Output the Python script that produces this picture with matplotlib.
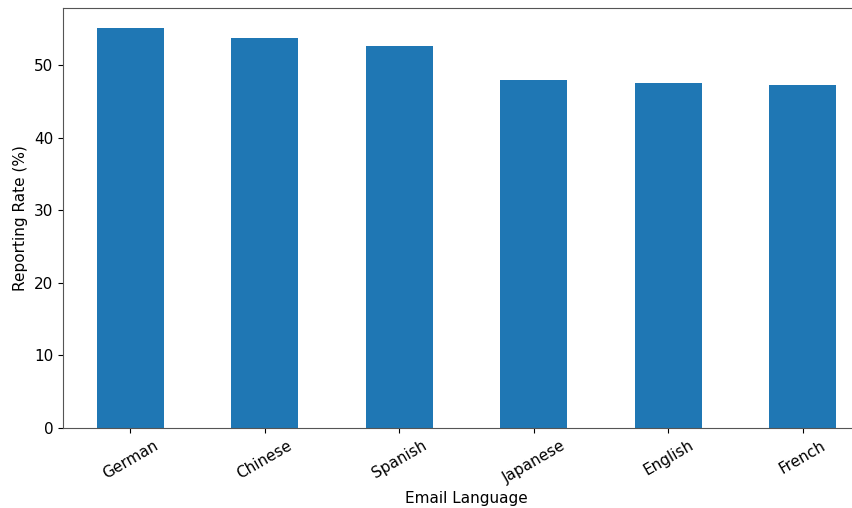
import pandas as pd
import matplotlib
matplotlib.use('Agg')
import matplotlib.pyplot as plt

languages = ['German', 'Chinese', 'Spanish', 'Japanese', 'English', 'French']
reporting_rate = [55.1, 53.7, 52.6, 47.9, 47.5, 47.2]

df = pd.Series(reporting_rate, index=languages)

plt.rcParams['font.size'] = 11
plt.rcParams['axes.edgecolor'] = '#555555'

fig = plt.figure(figsize=(8.53, 5.08), dpi=100)
# axes runs past the right edge, as in the reference (cropped right spine)
ax = fig.add_axes([63 / 853, 80 / 508, 807 / 853, 420 / 508])
df.plot(kind='bar', ax=ax, color='#1f77b4', width=0.5)
ax.set_xlim(-0.5, len(languages) - 0.5)
ax.spines['right'].set_visible(False)
ax.set_xlabel('Email Language', fontsize=11)
ax.set_ylabel('Reporting Rate (%)', fontsize=11)
ax.tick_params(axis='x', rotation=30, labelsize=11)
ax.tick_params(axis='y', labelsize=11)

fig.savefig('out.png', dpi=100)
